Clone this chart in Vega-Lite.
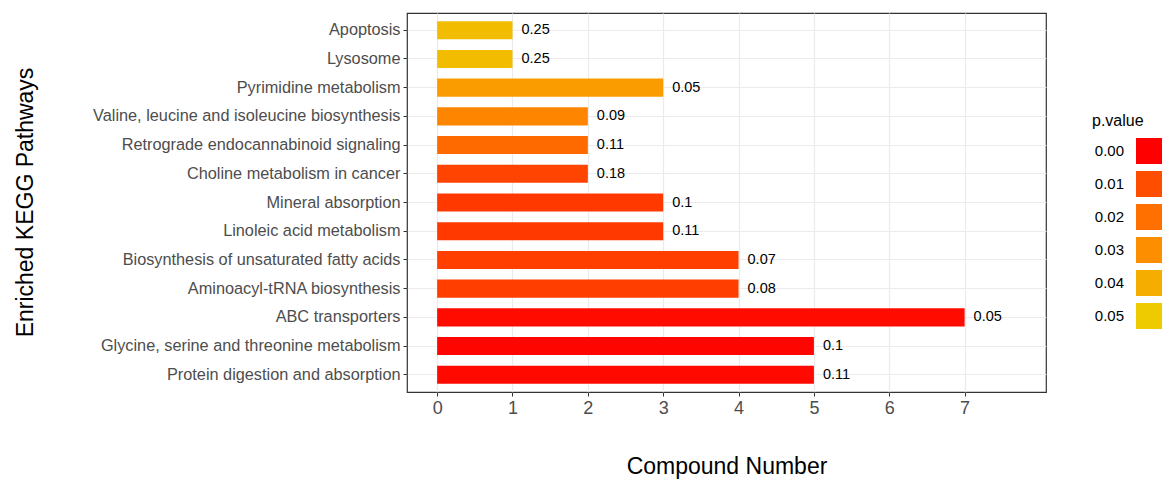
{
  "$schema": "https://vega.github.io/schema/vega-lite/v6.json",
  "autosize": {"type": "none"},
  "padding": {"left": 407, "top": 13, "right": 120, "bottom": 89},
  "width": 639,
  "height": 379,
  "background": "white",
  "config": {
    "font": "Liberation Sans",
    "view": {"stroke": "#333333", "strokeWidth": 1.2}
  },
  "data": {
    "values": [
      {"pathway": "Apoptosis", "count": 1, "ratio": 0.25, "pvalue": 0.045},
      {"pathway": "Lysosome", "count": 1, "ratio": 0.25, "pvalue": 0.045},
      {"pathway": "Pyrimidine metabolism", "count": 3, "ratio": 0.05, "pvalue": 0.034},
      {"pathway": "Valine, leucine and isoleucine biosynthesis", "count": 2, "ratio": 0.09, "pvalue": 0.027},
      {"pathway": "Retrograde endocannabinoid signaling", "count": 2, "ratio": 0.11, "pvalue": 0.018},
      {"pathway": "Choline metabolism in cancer", "count": 2, "ratio": 0.18, "pvalue": 0.0078},
      {"pathway": "Mineral absorption", "count": 3, "ratio": 0.1, "pvalue": 0.0057},
      {"pathway": "Linoleic acid metabolism", "count": 3, "ratio": 0.11, "pvalue": 0.0057},
      {"pathway": "Biosynthesis of unsaturated fatty acids", "count": 4, "ratio": 0.07, "pvalue": 0.0066},
      {"pathway": "Aminoacyl-tRNA biosynthesis", "count": 4, "ratio": 0.08, "pvalue": 0.0066},
      {"pathway": "ABC transporters", "count": 7, "ratio": 0.05, "pvalue": 0.0005},
      {"pathway": "Glycine, serine and threonine metabolism", "count": 5, "ratio": 0.1, "pvalue": 0.0002},
      {"pathway": "Protein digestion and absorption", "count": 5, "ratio": 0.11, "pvalue": 0.0004}
    ]
  },
  "encoding": {
    "y": {
      "field": "pathway",
      "type": "nominal",
      "sort": null,
      "scale": {"paddingInner": 0.37, "paddingOuter": 0.285},
      "axis": {
        "title": "Enriched KEGG Pathways",
        "titleFontSize": 23,
        "titleFontWeight": "normal",
        "titleColor": "black",
        "titleX": -382,
        "titleY": 189,
        "titleAngle": 270,
        "titleAlign": "center",
        "titleBaseline": "middle",
        "labelFontSize": 16.3,
        "labelColor": "#4D4D4D",
        "labelPadding": 3,
        "labelLimit": 400,
        "tickSize": 4,
        "tickColor": "#333333",
        "domain": false,
        "grid": true,
        "gridColor": "#EBEBEB",
        "gridWidth": 1.2,
        "bandPosition": 0.5
      }
    },
    "x": {
      "field": "count",
      "type": "quantitative",
      "scale": {"domain": [-0.4, 8.08], "nice": false, "zero": false},
      "axis": {
        "title": "Compound Number",
        "titleFontSize": 23,
        "titleFontWeight": "normal",
        "titleColor": "black",
        "titleY": 74,
        "titleBaseline": "middle",
        "values": [0, 1, 2, 3, 4, 5, 6, 7],
        "format": "d",
        "labelFontSize": 18,
        "labelColor": "#4D4D4D",
        "labelPadding": 3,
        "tickSize": 4,
        "tickColor": "#333333",
        "domain": false,
        "grid": true,
        "gridColor": "#EBEBEB",
        "gridWidth": 1.2
      }
    }
  },
  "layer": [
    {
      "mark": {"type": "bar"},
      "encoding": {
        "x2": {"datum": 0},
        "color": {
          "field": "pvalue",
          "type": "quantitative",
          "scale": {
            "domain": [0, 0.01, 0.02, 0.03, 0.04, 0.05],
            "range": ["#FF0000", "#FF4D00", "#FF7000", "#FD8E00", "#F5AE00", "#EDCB00"]
          },
          "legend": {
            "title": "p.value",
            "type": "symbol",
            "values": [0, 0.01, 0.02, 0.03, 0.04, 0.05],
            "format": ".2f",
            "orient": "none",
            "legendX": 685,
            "legendY": 100,
            "titleFontSize": 16,
            "titleFontWeight": "normal",
            "titleColor": "black",
            "titlePadding": 8,
            "labelFontSize": 15,
            "labelColor": "black",
            "labelAlign": "right",
            "labelOffset": -39,
            "symbolOffset": 43,
            "symbolType": "square",
            "symbolSize": 729,
            "symbolStrokeColor": "white",
            "symbolStrokeWidth": 1,
            "symbolOpacity": 1,
            "rowPadding": 1
          }
        }
      }
    },
    {
      "mark": {"type": "text", "align": "left", "baseline": "middle", "dx": 9, "fontSize": 14.5, "color": "black"},
      "encoding": {
        "text": {"field": "ratio", "type": "quantitative"}
      }
    }
  ]
}
